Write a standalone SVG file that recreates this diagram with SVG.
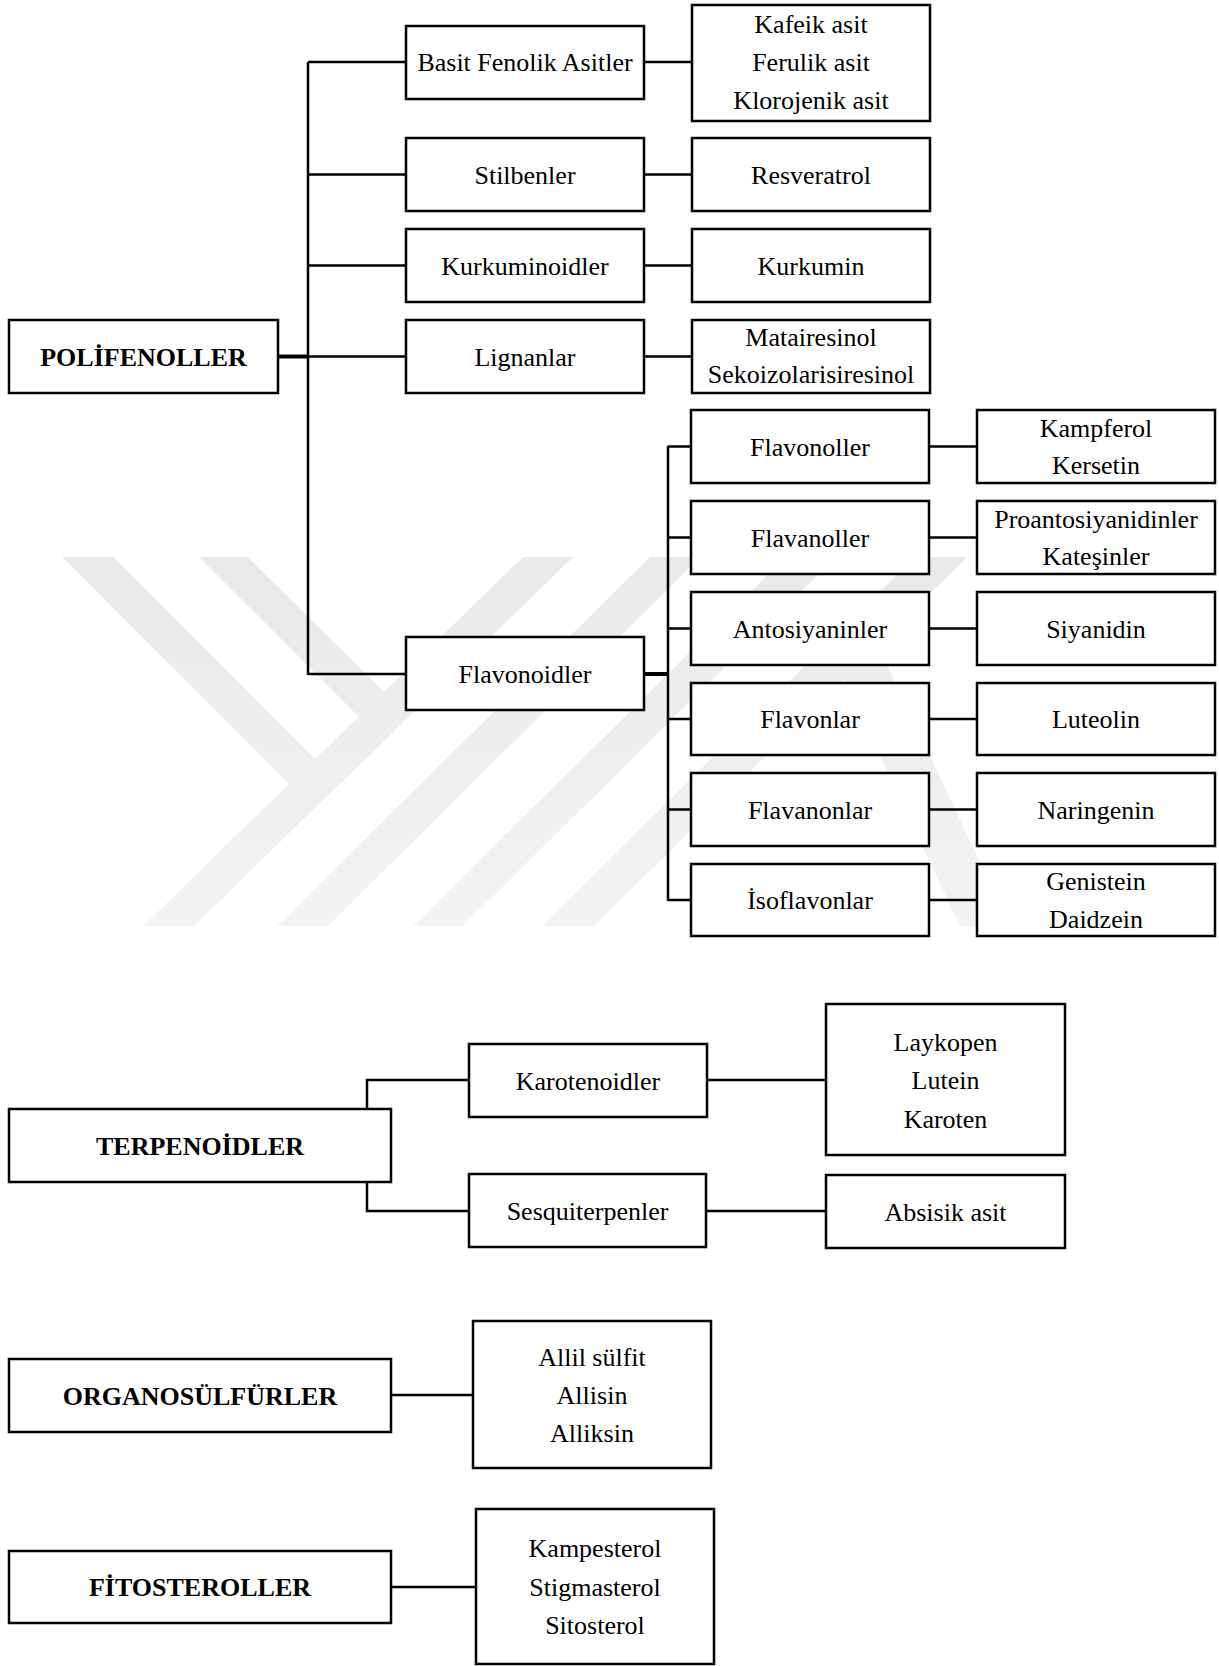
<svg xmlns="http://www.w3.org/2000/svg" width="1219" height="1666" viewBox="0 0 1219 1666">
<style>
.b{fill:#fff;stroke:#000;stroke-width:2.5}
.t{font-family:"Liberation Serif","Times New Roman",serif;font-size:26px;fill:#000;text-anchor:middle}
.h{font-weight:bold}
.c{fill:none;stroke:#000;stroke-width:2.5}
.k{fill:none;stroke:#000;stroke-width:4}
</style>
<defs>
<linearGradient id="wg" x1="0" y1="557" x2="0" y2="926" gradientUnits="userSpaceOnUse">
<stop offset="0" stop-color="#e9e9e9"/>
<stop offset="1" stop-color="#f3f3f3"/>
</linearGradient>
</defs>
<rect width="1219" height="1666" fill="#fff"/>
<g id="watermark" fill="url(#wg)">
<polygon points="62,557 113,557 315,759 359,717 199,557 248,557 384,692 523,557 573,557 194,926 143,926 289,784"/>
<polygon points="650,557 700,557 328,926 277,926"/>
<polygon points="786,557 836,557 463,926 413,926"/>
<polygon points="915,557 967,557 594,926 542,926"/>
<polygon points="830,650 880,650 1010,926 960,926"/>
</g>
<g id="connectors">
<path class="k" d="M278,356.5 H308"/>
<path class="c" d="M308,62 V675 M308,62 H406 M308,174.5 H406 M308,265.5 H406 M308,356.5 H406 M308,674 H406"/>
<path class="c" d="M644,62 H692 M644,174.5 H692 M644,265.5 H692 M644,356.5 H692"/>
<path class="k" d="M644,674 H668"/>
<path class="c" d="M668,446 V901 M668,446.5 H691 M668,537.5 H691 M668,628.5 H691 M668,719 H691 M668,809.5 H691 M668,900 H691"/>
<path class="c" d="M929,446.5 H977 M929,537.5 H977 M929,628.5 H977 M929,719 H977 M929,809.5 H977 M929,900 H977"/>
<path class="c" d="M367,1109 V1080 H469 M367,1182 V1211 H469"/>
<path class="c" d="M707,1080 H826 M706,1211 H826"/>
<path class="c" d="M391,1395 H473"/>
<path class="c" d="M391,1587 H476"/>
</g>
<g id="polifenoller"><rect class="b" x="9" y="320" width="269" height="73"/><text class="t h" x="143.5" y="365.5">POLİFENOLLER</text></g>
<g id="basit"><rect class="b" x="406" y="26" width="238" height="73"/><text class="t" x="525" y="71">Basit Fenolik Asitler</text></g>
<g id="stilbenler"><rect class="b" x="406" y="138" width="238" height="73"/><text class="t" x="525" y="183.5">Stilbenler</text></g>
<g id="kurkuminoidler"><rect class="b" x="406" y="229" width="238" height="73"/><text class="t" x="525" y="274.5">Kurkuminoidler</text></g>
<g id="lignanlar"><rect class="b" x="406" y="320" width="238" height="73"/><text class="t" x="525" y="365.5">Lignanlar</text></g>
<g id="flavonoidler"><rect class="b" x="406" y="637" width="238" height="73"/><text class="t" x="525" y="682.5">Flavonoidler</text></g>
<g id="fenolik-ornek"><rect class="b" x="692" y="5" width="238" height="116"/><text class="t" x="811" y="33">Kafeik asit</text><text class="t" x="811" y="71">Ferulik asit</text><text class="t" x="811" y="109">Klorojenik asit</text></g>
<g id="resveratrol"><rect class="b" x="692" y="138" width="238" height="73"/><text class="t" x="811" y="183.5">Resveratrol</text></g>
<g id="kurkumin"><rect class="b" x="692" y="229" width="238" height="73"/><text class="t" x="811" y="274.5">Kurkumin</text></g>
<g id="lignan-ornek"><rect class="b" x="692" y="320" width="238" height="73"/><text class="t" x="811" y="346">Matairesinol</text><text class="t" x="811" y="383">Sekoizolarisiresinol</text></g>
<g id="flavonoller"><rect class="b" x="691" y="410" width="238" height="73"/><text class="t" x="810" y="455.5">Flavonoller</text></g>
<g id="flavanoller"><rect class="b" x="691" y="501" width="238" height="73"/><text class="t" x="810" y="546.5">Flavanoller</text></g>
<g id="antosiyaninler"><rect class="b" x="691" y="592" width="238" height="73"/><text class="t" x="810" y="637.5">Antosiyaninler</text></g>
<g id="flavonlar"><rect class="b" x="691" y="683" width="238" height="72"/><text class="t" x="810" y="728">Flavonlar</text></g>
<g id="flavanonlar"><rect class="b" x="691" y="773" width="238" height="73"/><text class="t" x="810" y="818.5">Flavanonlar</text></g>
<g id="isoflavonlar"><rect class="b" x="691" y="864" width="238" height="72"/><text class="t" x="810" y="909">İsoflavonlar</text></g>
<g id="kampferol"><rect class="b" x="977" y="410" width="238" height="73"/><text class="t" x="1096" y="437">Kampferol</text><text class="t" x="1096" y="474">Kersetin</text></g>
<g id="proantosiyanidinler"><rect class="b" x="977" y="501" width="238" height="73"/><text class="t" x="1096" y="528">Proantosiyanidinler</text><text class="t" x="1096" y="565">Kateşinler</text></g>
<g id="siyanidin"><rect class="b" x="977" y="592" width="238" height="73"/><text class="t" x="1096" y="637.5">Siyanidin</text></g>
<g id="luteolin"><rect class="b" x="977" y="683" width="238" height="72"/><text class="t" x="1096" y="728">Luteolin</text></g>
<g id="naringenin"><rect class="b" x="977" y="773" width="238" height="73"/><text class="t" x="1096" y="818.5">Naringenin</text></g>
<g id="genistein"><rect class="b" x="977" y="864" width="238" height="72"/><text class="t" x="1096" y="890">Genistein</text><text class="t" x="1096" y="928">Daidzein</text></g>
<g id="terpenoidler"><rect class="b" x="9" y="1109" width="382" height="73"/><text class="t h" x="200" y="1154.5">TERPENOİDLER</text></g>
<g id="karotenoidler"><rect class="b" x="469" y="1044" width="238" height="73"/><text class="t" x="588" y="1089.5">Karotenoidler</text></g>
<g id="sesquiterpenler"><rect class="b" x="469" y="1174" width="237" height="73"/><text class="t" x="587.5" y="1219.5">Sesquiterpenler</text></g>
<g id="laykopen"><rect class="b" x="826" y="1004" width="239" height="151"/><text class="t" x="945.5" y="1051">Laykopen</text><text class="t" x="945.5" y="1089">Lutein</text><text class="t" x="945.5" y="1128">Karoten</text></g>
<g id="absisik"><rect class="b" x="826" y="1175" width="239" height="73"/><text class="t" x="945.5" y="1220.5">Absisik asit</text></g>
<g id="organosulfurler"><rect class="b" x="9" y="1359" width="382" height="73"/><text class="t h" x="200" y="1404.5">ORGANOSÜLFÜRLER</text></g>
<g id="allil"><rect class="b" x="473" y="1321" width="238" height="147"/><text class="t" x="592" y="1366">Allil sülfit</text><text class="t" x="592" y="1404">Allisin</text><text class="t" x="592" y="1442">Alliksin</text></g>
<g id="fitosteroller"><rect class="b" x="9" y="1551" width="382" height="72"/><text class="t h" x="200" y="1596">FİTOSTEROLLER</text></g>
<g id="kampesterol"><rect class="b" x="476" y="1509" width="238" height="155"/><text class="t" x="595" y="1557">Kampesterol</text><text class="t" x="595" y="1596">Stigmasterol</text><text class="t" x="595" y="1634">Sitosterol</text></g>
</svg>
